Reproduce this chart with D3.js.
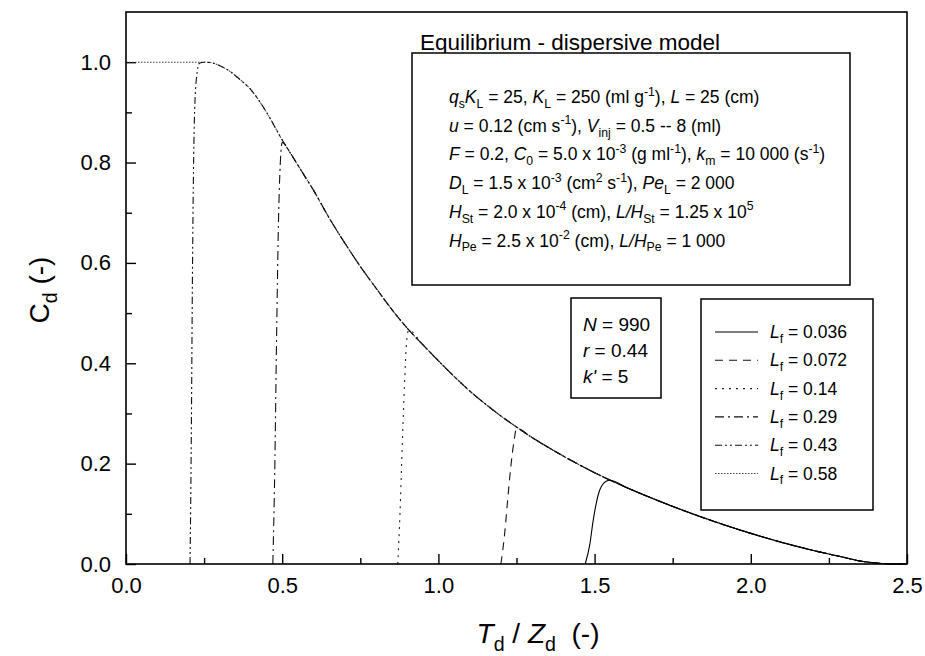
<!DOCTYPE html>
<html>
<head>
<meta charset="utf-8">
<script src="https://cdn.jsdelivr.net/npm/d3@7"></script>
<style>
  body { margin: 0; background: #fff; }
  svg { display: block; }
  text { font-family: "Liberation Sans", Arial, sans-serif; white-space: pre; fill: #000; }
</style>
</head>
<body>
<div id="chart"></div>
<script>
// rear branch, shared by all the profiles
const rearX = [0.25, 0.28, 0.30, 0.33, 0.36, 0.40, 0.45, 0.50, 0.525, 0.55, 0.575, 0.60, 0.65, 0.70, 0.75, 0.80, 0.85, 0.90, 0.95, 1.00, 1.05, 1.10, 1.15, 1.20, 1.25, 1.30, 1.35, 1.40, 1.45, 1.50, 1.55, 1.60, 1.70, 1.80, 1.90, 2.00, 2.10, 2.20, 2.30, 2.35, 2.40, 2.45, 2.50];
const rearY = [1.000, 0.998, 0.993, 0.983, 0.968, 0.945, 0.900, 0.845, 0.820, 0.795, 0.770, 0.745, 0.690, 0.640, 0.593, 0.550, 0.508, 0.470, 0.437, 0.405, 0.374, 0.345, 0.319, 0.295, 0.273, 0.252, 0.233, 0.215, 0.198, 0.182, 0.167, 0.153, 0.127, 0.103, 0.081, 0.061, 0.043, 0.027, 0.013, 0.006, 0.002, 0.000, 0.000];

// front of each profile
const front036X = [1.47, 1.485, 1.495, 1.505, 1.515, 1.525, 1.537, 1.548];
const front036Y = [0.000, 0.040, 0.085, 0.120, 0.145, 0.158, 0.165, 0.167];
const front072X = [1.200, 1.212, 1.222, 1.232, 1.242, 1.250];
const front072Y = [0.000, 0.060, 0.130, 0.195, 0.245, 0.270];
const front14X = [0.870, 0.877, 0.884, 0.891, 0.898, 0.905];
const front14Y = [0.000, 0.100, 0.230, 0.350, 0.440, 0.466];
const front29X = [0.470, 0.476, 0.482, 0.488, 0.494, 0.500];
const front29Y = [0.000, 0.180, 0.450, 0.680, 0.800, 0.840];
const front43X = [0.205, 0.209, 0.213, 0.218, 0.225, 0.235];
const front43Y = [0.000, 0.250, 0.600, 0.860, 0.965, 0.998];
const front58X = [0.000, 0.240];
const front58Y = [1.000, 1.000];

const lfLabels = ["0.036", "0.072", "0.14", "0.29", "0.43", "0.58"];

const xMajor = [0, 0.5, 1.0, 1.5, 2.0, 2.5];
const xMinor = [0.25, 0.75, 1.25, 1.75, 2.25];
const yMajor = [0, 0.2, 0.4, 0.6, 0.8, 1.0];
const yMinor = [0.1, 0.3, 0.5, 0.7, 0.9];

const infoTitle = "Equilibrium - dispersive model";
const infoLines = [
    "*q*_{s}*K*_{L} = 25, *K*_{L} = 250 (ml g^{-1}), *L* = 25 (cm)",
    "*u* = 0.12 (cm s^{-1}), *V*_{inj} = 0.5 -- 8 (ml)",
    "*F* = 0.2, *C*_{0} = 5.0 x 10^{-3} (g ml^{-1}), *k*_{m} = 10 000 (s^{-1})",
    "*D*_{L} = 1.5 x 10^{-3} (cm^{2} s^{-1}), *Pe*_{L} = 2 000",
    "*H*_{St} = 2.0 x 10^{-4} (cm), *L/H*_{St} = 1.25 x 10^{5}",
    "*H*_{Pe} = 2.5 x 10^{-2} (cm), *L/H*_{Pe} = 1 000"
];
const paramLines = ["*N* = 990", "*r* = 0.44", "*k'* = 5"];

// ---------------------------------------------------------------
const width = 925, height = 656;
const plotLeft = 126, plotRight = 907, plotTop = 12, plotBottom = 564;

const svg = d3.select('#chart').append('svg')
    .attr('width', width)
    .attr('height', height);

const x = d3.scaleLinear().domain([0, 2.5]).range([plotLeft, plotRight]);
const y = d3.scaleLinear().domain([0, 1.1]).range([plotBottom, plotTop]);

// tiny markup: *italic*, _{sub}, ^{sup}
function parseRich(str) {
    const out = [];
    let italic = false, buf = '', i = 0;
    const push = function(t, mode) { if (t) out.push({ t: t, it: italic, mode: mode }); };
    while (i < str.length) {
        const c = str[i];
        if (c === '*') {
            push(buf, 'n'); buf = ''; italic = !italic; i++;
        } else if ((c === '_' || c === '^') && str[i + 1] === '{') {
            push(buf, 'n'); buf = '';
            const j = str.indexOf('}', i);
            push(str.slice(i + 2, j), c === '_' ? 'sub' : 'sup');
            i = j + 1;
        } else {
            buf += c; i++;
        }
    }
    push(buf, 'n');
    return out;
}

function richText(g, str, px, py, size, opts) {
    opts = opts || {};
    const t = g.append('text')
        .attr('x', px)
        .attr('y', py)
        .attr('font-size', size + 'px');
    if (opts.transform) t.attr('transform', opts.transform);
    if (opts.anchor) t.attr('text-anchor', opts.anchor);
    let cur = 0;
    parseRich(str).forEach(function(s) {
        let target = 0, fs = size;
        if (s.mode === 'sub') { target = 0.28 * size; fs = size * 0.7; }
        if (s.mode === 'sup') { target = -0.42 * size; fs = size * 0.7; }
        t.append('tspan')
            .attr('dy', target - cur)
            .attr('font-size', fs + 'px')
            .attr('font-style', (s.it && s.mode === 'n') ? 'italic' : 'normal')
            .text(s.t);
        cur = target;
    });
    return t;
}

// axes with inward ticks
function styleAxis(g) {
    g.select('.domain').remove();
    g.selectAll('line').attr('stroke', '#000').attr('stroke-width', 1.4);
    g.selectAll('text')
        .attr('font-family', '"Liberation Sans", Arial, sans-serif')
        .attr('font-size', '22px');
}

svg.append('g')
    .attr('transform', 'translate(0,' + plotBottom + ')')
    .call(d3.axisBottom(x).tickValues(xMajor).tickSize(-10).tickPadding(13).tickFormat(d3.format('.1f')))
    .call(styleAxis);
svg.append('g')
    .attr('transform', 'translate(0,' + plotBottom + ')')
    .call(d3.axisBottom(x).tickValues(xMinor).tickSize(-6).tickFormat(''))
    .call(styleAxis);
svg.append('g')
    .attr('transform', 'translate(' + plotLeft + ',0)')
    .call(d3.axisLeft(y).tickValues(yMajor).tickSize(-10).tickPadding(15).tickFormat(d3.format('.1f')))
    .call(styleAxis);
svg.append('g')
    .attr('transform', 'translate(' + plotLeft + ',0)')
    .call(d3.axisLeft(y).tickValues(yMinor).tickSize(-6).tickFormat(''))
    .call(styleAxis);

// curves: front points, then the shared rear branch
function buildSeries(fx, fy) {
    const pts = fx.map(function(v, i) { return [v, fy[i]]; });
    const last = fx[fx.length - 1];
    rearX.forEach(function(v, i) {
        if (v > last + 0.005) pts.push([v, rearY[i]]);
    });
    return pts;
}

const fronts = [
    [front036X, front036Y],
    [front072X, front072Y],
    [front14X, front14Y],
    [front29X, front29Y],
    [front43X, front43Y],
    [front58X, front58Y]
];
const dashes = [null, '8,6', '2,5', '9,4,2,4', '7,3,2,3,2,3', '1.5,1.5'];
const strokes = ['#000', '#111', '#222', '#111', '#111', '#444'];

const line = d3.line()
    .x(function(d) { return x(d[0]); })
    .y(function(d) { return y(d[1]); })
    .curve(d3.curveMonotoneX);

for (let i = fronts.length - 1; i >= 0; i--) {
    svg.append('path')
        .datum(buildSeries(fronts[i][0], fronts[i][1]))
        .attr('d', line)
        .attr('fill', 'none')
        .attr('stroke', strokes[i])
        .attr('stroke-width', 1.1)
        .attr('stroke-dasharray', dashes[i]);
}

// plot frame
svg.append('rect')
    .attr('x', plotLeft).attr('y', plotTop)
    .attr('width', plotRight - plotLeft).attr('height', plotBottom - plotTop)
    .attr('fill', 'none')
    .attr('stroke', '#000')
    .attr('stroke-width', 1.6);

// axis titles
richText(svg, 'C_{d} (-)', 0, 0, 28, { transform: 'translate(49,290) rotate(-90)', anchor: 'middle' });
richText(svg, '*T*_{d} / *Z*_{d}  (-)', 538, 643, 28, { anchor: 'middle' });

// model info box
svg.append('text')
    .attr('x', 420).attr('y', 50)
    .attr('font-size', '22.5px')
    .text(infoTitle);
svg.append('rect')
    .attr('x', 412).attr('y', 53)
    .attr('width', 438).attr('height', 232)
    .attr('fill', '#fff')
    .attr('stroke', '#000')
    .attr('stroke-width', 1.5);
infoLines.forEach(function(s, i) {
    richText(svg, s, 449, 103 + i * 28.7, 17.5);
});

// N, r, k' box
svg.append('rect')
    .attr('x', 571).attr('y', 298)
    .attr('width', 90).attr('height', 100)
    .attr('fill', '#fff')
    .attr('stroke', '#000')
    .attr('stroke-width', 1.5);
paramLines.forEach(function(s, i) {
    richText(svg, s, 583, 331 + i * 26, 19);
});

// legend
svg.append('rect')
    .attr('x', 701).attr('y', 299)
    .attr('width', 172).attr('height', 211)
    .attr('fill', '#fff')
    .attr('stroke', '#000')
    .attr('stroke-width', 1.5);
lfLabels.forEach(function(lab, i) {
    const cy = 332 + i * 28.3;
    svg.append('line')
        .attr('x1', 715).attr('x2', 758)
        .attr('y1', cy).attr('y2', cy)
        .attr('stroke', strokes[i])
        .attr('stroke-width', 1.1)
        .attr('stroke-dasharray', dashes[i]);
    richText(svg, '*L*_{f} = ' + lab, 770, cy + 6, 17.5);
});
</script>
</body>
</html>
